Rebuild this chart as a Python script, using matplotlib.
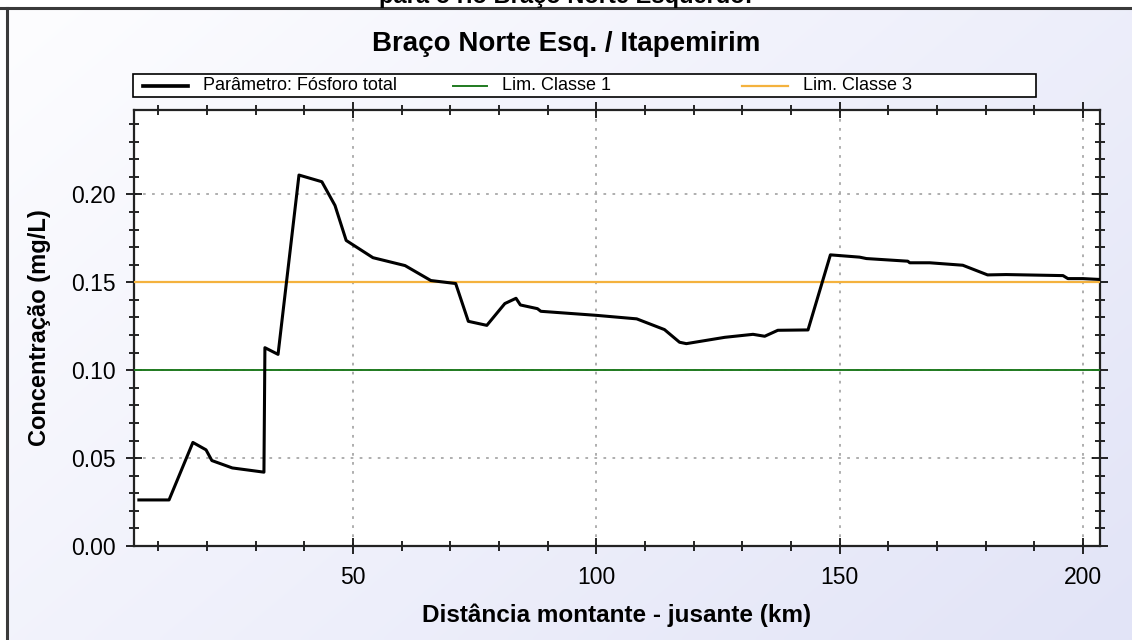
import matplotlib

matplotlib.use("Agg")
import matplotlib.pyplot as plt
import numpy as np
from matplotlib.lines import Line2D
from matplotlib.patches import Rectangle
from matplotlib.ticker import MultipleLocator

plt.rcParams["font.family"] = ["Liberation Sans", "DejaVu Sans"]

# distance (km) and total phosphorus (mg/L)
dist_km = [6.0, 12.2, 17.1, 19.8, 21.0, 25.2, 31.7, 31.9, 34.6, 38.9, 43.6, 46.3,
           48.6, 54.1, 60.7, 66.0, 71.1, 73.7, 77.5, 81.2, 83.5, 84.4, 87.9, 88.6,
           100.0, 108.3, 114.0, 117.1, 118.5, 126.4, 132.2, 134.6, 137.3, 143.5,
           148.1, 154.1, 155.5, 164.0, 164.4, 168.5, 175.3, 180.4, 184.2, 195.9,
           196.9, 200.0, 203.5]
fosforo = [0.0262, 0.0262, 0.0589, 0.0547, 0.0486, 0.0444, 0.0420, 0.1128, 0.1090,
           0.2110, 0.2072, 0.1937, 0.1738, 0.1640, 0.1595, 0.1510, 0.1493, 0.1278,
           0.1255, 0.1379, 0.1409, 0.1371, 0.1350, 0.1335, 0.1312, 0.1292, 0.1231,
           0.1159, 0.1151, 0.1187, 0.1204, 0.1193, 0.1227, 0.1229, 0.1656, 0.1643,
           0.1635, 0.1620, 0.1611, 0.1611, 0.1597, 0.1542, 0.1544, 0.1538, 0.1521,
           0.1521, 0.1516]
lim_classe1 = 0.10
lim_classe3 = 0.15

W, H = 1132, 640
fig = plt.figure(figsize=(W / 100, H / 100), dpi=100)

# soft lavender gradient background with a dark frame on top/left
bg = fig.add_axes([0, 0, 1, 1], zorder=-10)
bg.set_axis_off()
gx, gy = np.meshgrid(np.linspace(0, 1, 200), np.linspace(0, 1, 120))
t = np.clip((gx * 0.6 + gy * 0.4), 0, 1)[..., None]
c0 = np.array([253, 253, 255]) / 255
c1 = np.array([226, 228, 247]) / 255
bg.imshow(c0 + (c1 - c0) * t, extent=(8 / W, 1, 0, 1 - 8 / H),
          aspect="auto", origin="upper", interpolation="bilinear")
bg.set_xlim(0, 1)
bg.set_ylim(0, 1)
fig.add_artist(Line2D([0, 1], [1 - 8 / H, 1 - 8 / H], color="#3a3a3a", lw=2.2))
fig.add_artist(Line2D([7 / W, 7 / W], [0, 1 - 8 / H], color="#3a3a3a", lw=2.2))

fig.text(0.5, 1 - 3 / H, "para o rio Braço Norte Esquerdo:", ha="center",
         va="baseline", fontsize=17, fontweight="bold")
fig.text(0.5, 1 - 44 / H, "Braço Norte Esq. / Itapemirim", ha="center",
         va="center", fontsize=20, fontweight="bold")

ax = fig.add_axes([134 / W, 1 - 546 / H, (1100 - 134) / W, (546 - 110) / H])
ax.set_facecolor("white")

ax.plot(dist_km, fosforo, color="black", lw=2.2, label="Parâmetro: Fósforo total",
        zorder=5)
ax.axhline(lim_classe1, color="#1f7a1f", lw=1.4, label="Lim. Classe 1", zorder=4)
ax.axhline(lim_classe3, color="#f4b23e", lw=1.6, label="Lim. Classe 3", zorder=4)

ax.set_xlim(5, 203.5)
ax.set_ylim(0, 0.248)
ax.xaxis.set_major_locator(MultipleLocator(50))
ax.xaxis.set_minor_locator(MultipleLocator(10))
ax.yaxis.set_major_locator(MultipleLocator(0.05))
ax.yaxis.set_minor_locator(MultipleLocator(0.01))
ax.yaxis.set_major_formatter(plt.FormatStrFormatter("%.2f"))
ax.grid(True, which="major", color="#a8a8a8", linestyle=(0, (1.5, 3.5)), lw=1.3)

ax.tick_params(which="both", direction="inout", top=True, right=True,
               labelsize=16.5, colors="black", width=1.2)
ax.tick_params(which="major", length=11)
ax.tick_params(which="minor", length=7)
ax.tick_params(axis="y", which="major", pad=8)
ax.tick_params(axis="x", which="major", pad=9)
for s in ax.spines.values():
    s.set_linewidth(1.6)
    s.set_color("#222222")

ax.set_xlabel("Distância montante - jusante (km)", fontsize=17.5, fontweight="bold",
              labelpad=10)
ax.set_ylabel("Concentração (mg/L)", fontsize=17, fontweight="bold", labelpad=14)

# legend box across the top, entries placed like the original
leg_x0, leg_x1, leg_top, leg_bot = 133, 1036, 74, 97
fig.add_artist(Rectangle((leg_x0 / W, 1 - leg_bot / H), (leg_x1 - leg_x0) / W,
                         (leg_bot - leg_top) / H, facecolor="white",
                         edgecolor="black", lw=1.2))
handles, labels = ax.get_legend_handles_labels()
entry_x = [143, 453, 742]
handle_len = [45, 34, 46]
ymid = 1 - (leg_top + leg_bot) / 2 / H
for h, lab, x, hl in zip(handles, labels, entry_x, handle_len):
    fig.add_artist(Line2D([x / W, (x + hl) / W], [ymid, ymid], color=h.get_color(),
                          lw=h.get_linewidth() * (1.2 if lab.startswith("Par") else 1)))
    fig.text((x + hl + 15) / W, ymid, lab, ha="left", va="center", fontsize=13)

fig.savefig("out.png", dpi=100)
plt.close(fig)
